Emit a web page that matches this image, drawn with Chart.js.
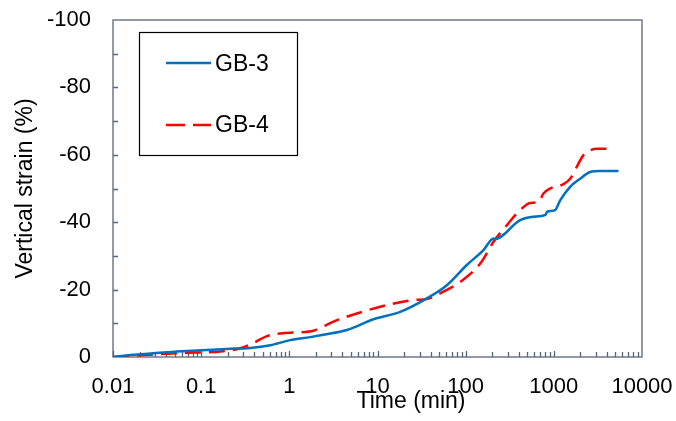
<!DOCTYPE html>
<html>
<head>
<meta charset="utf-8">
<script src="https://cdn.jsdelivr.net/npm/chart.js@4/dist/chart.umd.min.js"></script>
<style>
  html, body { margin: 0; padding: 0; background: #ffffff; }
  #wrap { width: 676px; height: 421px; position: relative; }
</style>
</head>
<body>
<div id="wrap"><canvas id="c" width="676" height="421"></canvas></div>
<script>
// Elapsed time (min) and vertical strain (%) for each specimen
const gb3Time   = [0.01, 0.0157, 0.053, 0.196, 0.36, 0.61, 1.02, 1.73, 2.44, 4.5, 9.0, 18.1, 36.3, 61.2, 103, 159, 207, 214, 415, 588, 804, 840, 1035, 1180, 1531, 1987, 2577, 3350, 5410];
const gb3Strain = [0, -0.6, -1.6, -2.4, -2.7, -3.5, -5.0, -5.9, -6.6, -8.0, -11.2, -13.4, -17.4, -21.3, -27.3, -31.7, -35.2, -35.0, -40.6, -41.6, -42.2, -43.1, -43.6, -46.5, -50.5, -52.9, -54.9, -55.2, -55.2];

const gb4Time   = [0.01, 0.0157, 0.0344, 0.082, 0.165, 0.277, 0.393, 0.557, 0.789, 1.22, 1.88, 3.17, 5.83, 12.8, 25.6, 36.3, 56, 87, 147, 207, 293, 415, 539, 670, 763, 908, 1285, 1531, 2168, 2577, 3070, 4160];
const gb4Strain = [0, -0.3, -0.9, -1.3, -1.6, -2.6, -4.2, -6.2, -7.0, -7.3, -7.8, -10.5, -12.9, -15.4, -16.9, -17.2, -19.4, -22.3, -27.8, -34.2, -39.1, -43.6, -45.7, -46.0, -48.5, -50.0, -51.3, -52.9, -59.9, -61.3, -61.8, -61.8];

const seriesNames = ['GB-3', 'GB-4'];
const xTickValues = [0.01, 0.1, 1, 10, 100, 1000, 10000];
const xTickLabels = ['0.01', '0.1', '1', '10', '100', '1000', '10000'];
const yTickValues = [-100, -80, -60, -40, -20, 0];
const yTickLabels = ['-100', '-80', '-60', '-40', '-20', '0'];

const FONT = '"Liberation Sans", Arial, sans-serif';
const AXIS_COLOR = '#596579';

function toPoints(xs, ys) {
  return xs.map((x, i) => ({ x: x, y: ys[i] }));
}

// Plot frame with inward tick marks, axis titles and a boxed legend
const framePlugin = {
  id: 'frame',
  beforeDatasetsDraw(chart) {
    const { ctx, chartArea: a, scales: { x, y } } = chart;
    ctx.save();
    ctx.strokeStyle = AXIS_COLOR;
    ctx.lineWidth = 1.3;
    ctx.strokeRect(a.left, a.top, a.right - a.left, a.bottom - a.top);
    ctx.beginPath();
    for (let d = -2; d <= 3; d++) {
      for (let k = 1; k <= 9; k++) {
        const v = k * Math.pow(10, d);
        const px = Math.round(x.getPixelForValue(v)) + 0.5;
        const len = k === 1 ? 6 : 5;
        ctx.moveTo(px, a.bottom);
        ctx.lineTo(px, a.bottom - len);
      }
    }
    for (let v = -90; v < 0; v += 10) {
      const py = Math.round(y.getPixelForValue(v)) + 0.5;
      ctx.moveTo(a.left, py);
      ctx.lineTo(a.left + 5, py);
    }
    ctx.stroke();
    ctx.restore();
  },
  afterDraw(chart) {
    const { ctx, chartArea: a } = chart;
    ctx.save();
    ctx.fillStyle = '#000';
    ctx.font = '23px ' + FONT;
    ctx.textAlign = 'center';
    ctx.textBaseline = 'alphabetic';
    ctx.fillText('Time (min)', 411, 408);
    ctx.translate(32, (a.top + a.bottom) / 2);
    ctx.rotate(-Math.PI / 2);
    ctx.fillText('Vertical strain (%)', 0, 0);
    ctx.restore();

    // legend
    ctx.save();
    ctx.fillStyle = '#fff';
    ctx.fillRect(139.5, 32.5, 158, 123);
    ctx.strokeStyle = '#000';
    ctx.lineWidth = 1.2;
    ctx.strokeRect(139.5, 32.5, 158, 123);
    const rows = [63, 125];
    const baselines = [70.5, 131.5];
    chart.data.datasets.forEach((ds, i) => {
      const yy = rows[i];
      ctx.beginPath();
      ctx.strokeStyle = ds.borderColor;
      ctx.lineWidth = ds.borderWidth;
      ctx.setLineDash(ds.borderDash ? [19, 8] : []);
      ctx.moveTo(166, yy);
      ctx.lineTo(211, yy);
      ctx.stroke();
      ctx.setLineDash([]);
      ctx.fillStyle = '#000';
      ctx.font = '23px ' + FONT;
      ctx.textAlign = 'left';
      ctx.textBaseline = 'alphabetic';
      ctx.fillText(ds.label, 215, baselines[i]);
    });
    ctx.restore();
  }
};

new Chart(document.getElementById('c'), {
  type: 'line',
  data: {
    datasets: [
      {
        label: seriesNames[0],
        data: toPoints(gb3Time, gb3Strain),
        borderColor: '#0070C0',
        borderWidth: 2.5,
        pointRadius: 0,
        cubicInterpolationMode: 'monotone',
        fill: false
      },
      {
        label: seriesNames[1],
        data: toPoints(gb4Time, gb4Strain),
        borderColor: '#FF0000',
        borderWidth: 2.5,
        borderDash: [16, 8],
        pointRadius: 0,
        cubicInterpolationMode: 'monotone',
        fill: false
      }
    ]
  },
  options: {
    responsive: false,
    animation: false,
    devicePixelRatio: 1,
    layout: { padding: { left: 0, right: 34, top: 20, bottom: 0 } },
    plugins: {
      legend: { display: false },
      tooltip: { enabled: false },
      title: { display: false }
    },
    scales: {
      x: {
        type: 'logarithmic',
        min: 0.01,
        max: 10000,
        border: { display: false },
        grid: { display: false, drawTicks: false },
        afterBuildTicks(scale) {
          scale.ticks = xTickValues.map(v => ({ value: v }));
        },
        afterFit(scale) {
          scale.height = 64;
          scale.paddingLeft = 0;
          scale.paddingRight = 0;
        },
        ticks: {
          autoSkip: false,
          maxRotation: 0,
          padding: 17,
          color: '#000',
          font: { family: FONT, size: 22 },
          callback(value) {
            const i = xTickValues.indexOf(value);
            return i >= 0 ? xTickLabels[i] : '';
          }
        }
      },
      y: {
        type: 'linear',
        min: -100,
        max: 0,
        reverse: true,
        border: { display: false },
        grid: { display: false, drawTicks: false },
        afterBuildTicks(scale) {
          scale.ticks = yTickValues.map(v => ({ value: v }));
        },
        afterFit(scale) {
          scale.width = 113;
          scale.paddingTop = 0;
          scale.paddingBottom = 0;
        },
        ticks: {
          autoSkip: false,
          padding: 22,
          color: '#000',
          font: { family: FONT, size: 22 },
          callback(value) {
            const i = yTickValues.indexOf(value);
            return i >= 0 ? yTickLabels[i] : '';
          }
        }
      }
    }
  },
  plugins: [framePlugin]
});
</script>
</body>
</html>
